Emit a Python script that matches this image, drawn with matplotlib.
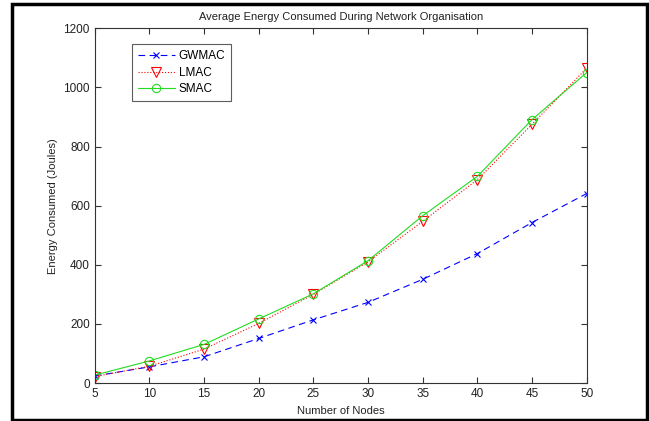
import matplotlib
matplotlib.use("Agg")
import matplotlib.pyplot as plt
from matplotlib.patches import Rectangle

plt.rcParams['font.family'] = ['Liberation Sans', 'DejaVu Sans']

nodes = [5, 10, 15, 20, 25, 30, 35, 40, 45, 50]
gwmac = [24, 55, 89, 151, 214, 273, 351, 438, 543, 641]
lmac = [22, 57, 115, 202, 300, 410, 547, 688, 875, 1065]
smac = [27, 75, 131, 217, 302, 414, 566, 699, 891, 1050]

fig = plt.figure(figsize=(6.49, 4.21), dpi=100)
ax = fig.add_axes([0.146, 0.090, 0.758, 0.843])

ax.plot(nodes, gwmac, color='#0000ff', ls=(0, (6, 4)), lw=0.8, marker='x',
        ms=4, mew=0.8, label='GWMAC')
ax.plot(nodes, lmac, color='#ff0000', ls=':', lw=0.8, marker='v',
        ms=6.5, mfc='none', mew=0.8, label='LMAC')
ax.plot(nodes, smac, color='#22dd22', ls='-', lw=0.8, marker='o',
        ms=6, mfc='none', mew=0.8, label='SMAC')

ax.set_xlim(5, 50)
ax.set_ylim(0, 1200)
ax.set_xticks(range(5, 51, 5))
ax.set_yticks(range(0, 1201, 200))
ax.tick_params(direction='in', top=True, right=True, labelsize=8.5,
               length=4, width=0.8, colors='#333333', labelcolor='#222222')
for s in ax.spines.values():
    s.set_color('#333333')
    s.set_linewidth(0.8)

ax.set_title('Average Energy Consumed During Network Organisation',
             fontsize=8, color='#222222', pad=6)
ax.set_xlabel('Number of Nodes', fontsize=8, color='#222222', labelpad=4)
ax.set_ylabel('Energy Consumed (Joules)', fontsize=8, color='#222222', labelpad=4)

leg = ax.legend(loc='upper left', bbox_to_anchor=(0.063, 0.972), fontsize=8.5,
                frameon=True, fancybox=False, edgecolor='#333333',
                handlelength=3.2, handletextpad=0.3, borderpad=0.5,
                labelspacing=0.4)
leg.get_frame().set_linewidth(0.8)

# black frame round the whole picture
fig.patches.append(Rectangle((12 / 649, 1 / 421), 635 / 649, 416 / 421,
                             transform=fig.transFigure, fill=False,
                             edgecolor='black', lw=2.5))

fig.savefig('out.png', dpi=100)
